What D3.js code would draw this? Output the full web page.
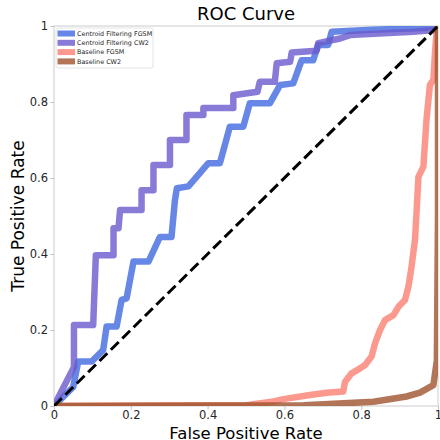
<!DOCTYPE html>
<html>
<head>
<meta charset="utf-8">
<script src="https://cdn.jsdelivr.net/npm/d3@7"></script>
<style>
  body { margin: 0; background: #fff; }
  svg { display: block; font-family: "DejaVu Sans", sans-serif; }
</style>
</head>
<body>
<svg width="440" height="440"></svg>
<script>
// Series names and colours (legend order).
const seriesNames = ["Centroid Filtering FGSM", "Centroid Filtering CW2", "Baseline FGSM", "Baseline CW2"];
const seriesColors = ["#4169E1", "#6A5ACD", "#FA8072", "#A0522D"];

// ROC points: [false positive rate, true positive rate].
const centroidFgsm = [
  [0, 0], [0.05, 0.05], [0.063, 0.117], [0.098, 0.117], [0.128, 0.147], [0.137, 0.209],
  [0.163, 0.209], [0.176, 0.279], [0.189, 0.283], [0.207, 0.38], [0.246, 0.38],
  [0.276, 0.445], [0.306, 0.445], [0.315, 0.542], [0.32, 0.573], [0.35, 0.578],
  [0.402, 0.639], [0.432, 0.639], [0.458, 0.735], [0.493, 0.735], [0.51, 0.797],
  [0.5625, 0.797], [0.589, 0.845], [0.623, 0.849], [0.645, 0.91], [0.675, 0.91],
  [0.688, 0.95], [0.714, 0.95], [0.723, 0.985], [0.83, 0.99], [0.97, 0.995], [1, 1]
];
const centroidCw2 = [
  [0, 0], [0.052, 0.103], [0.052, 0.213], [0.102, 0.213], [0.109, 0.397], [0.155, 0.397],
  [0.155, 0.468], [0.168, 0.468], [0.172, 0.516], [0.228, 0.516], [0.228, 0.568],
  [0.259, 0.568], [0.259, 0.634], [0.302, 0.634], [0.302, 0.7], [0.345, 0.7],
  [0.345, 0.766], [0.389, 0.766], [0.389, 0.784], [0.467, 0.784], [0.467, 0.818],
  [0.53, 0.827], [0.536, 0.853], [0.575, 0.853], [0.58, 0.902], [0.615, 0.906],
  [0.619, 0.93], [0.684, 0.935], [0.688, 0.955], [0.745, 0.967], [0.771, 0.976],
  [0.936, 0.985], [0.997, 0.99], [1, 1]
];
const baselineFgsm = [
  [0, 0], [0.5, 0.002], [0.567, 0.011], [0.597, 0.018], [0.667, 0.029], [0.71, 0.035],
  [0.753, 0.038], [0.758, 0.064], [0.775, 0.086], [0.797, 0.099], [0.81, 0.108],
  [0.827, 0.13], [0.836, 0.165], [0.849, 0.2], [0.862, 0.226], [0.884, 0.239],
  [0.897, 0.261], [0.914, 0.279], [0.923, 0.314], [0.931, 0.366], [0.94, 0.437],
  [0.944, 0.507], [0.949, 0.603], [0.962, 0.63], [0.97, 0.753], [0.979, 0.845],
  [0.988, 0.858], [0.992, 0.928], [0.996, 0.98], [1, 1]
];
const baselineCw2 = [
  [0, 0], [0.65, 0.002], [0.832, 0.011], [0.918, 0.025], [0.953, 0.035],
  [0.988, 0.055], [0.997, 0.12], [1, 0.5], [1, 1]
];
const seriesValues = [centroidFgsm, centroidCw2, baselineFgsm, baselineCw2];

// Axis ticks.
const tickValues = [0, 0.2, 0.4, 0.6, 0.8, 1];
const tickLabels = ["0", "0.2", "0.4", "0.6", "0.8", "1"];

const svg = d3.select("svg");
const plotLeft = 54, plotRight = 438, plotTop = 26, plotBottom = 406;

const x = d3.scaleLinear().domain([0, 1]).range([plotLeft, plotRight]);
const y = d3.scaleLinear().domain([0, 1]).range([plotBottom, plotTop]);

// Clip lines to the axes box.
svg.append("defs").append("clipPath").attr("id", "plot-clip")
  .append("rect")
  .attr("x", plotLeft).attr("y", plotTop)
  .attr("width", plotRight - plotLeft).attr("height", plotBottom - plotTop);

// Axes.
const xAxis = svg.append("g")
  .attr("transform", `translate(0,${plotBottom})`)
  .call(d3.axisBottom(x).tickValues(tickValues).tickFormat((d, i) => tickLabels[i]).tickSize(3.5).tickPadding(1.5));
const yAxis = svg.append("g")
  .attr("transform", `translate(${plotLeft},0)`)
  .call(d3.axisLeft(y).tickValues(tickValues).tickFormat((d, i) => tickLabels[i]).tickSize(3.5).tickPadding(2.5));

[xAxis, yAxis].forEach(g => {
  g.select(".domain").remove();
  g.selectAll(".tick line").attr("stroke", "#b0b0b0").attr("stroke-width", 0.8);
  g.selectAll(".tick text")
    .attr("fill", "#262626")
    .style("font-family", "DejaVu Sans")
    .style("font-size", "11.5px");
});

// Spines (light gray frame).
svg.append("rect")
  .attr("x", plotLeft).attr("y", plotTop)
  .attr("width", plotRight - plotLeft).attr("height", plotBottom - plotTop)
  .attr("fill", "none")
  .attr("stroke", "#cccccc")
  .attr("stroke-width", 1);

// ROC curves.
const line = d3.line().x(d => x(d[0])).y(d => y(d[1]));
const curves = svg.append("g").attr("clip-path", "url(#plot-clip)");

curves.selectAll("path.roc")
  .data(seriesValues)
  .enter()
  .append("path")
  .attr("class", "roc")
  .attr("d", line)
  .attr("fill", "none")
  .attr("stroke", (d, i) => seriesColors[i])
  .attr("stroke-opacity", 0.8)
  .attr("stroke-width", 6.5)
  .attr("stroke-linejoin", "round")
  .attr("stroke-linecap", "butt");

// Chance diagonal.
curves.append("path")
  .attr("d", line([[0, 0], [1, 1]]))
  .attr("fill", "none")
  .attr("stroke", "#000")
  .attr("stroke-width", 3)
  .attr("stroke-dasharray", "11,5");

// Title and axis labels.
svg.append("text")
  .attr("x", (plotLeft + plotRight) / 2).attr("y", 20)
  .attr("text-anchor", "middle")
  .style("font-size", "18px")
  .attr("fill", "#000")
  .text("ROC Curve");

svg.append("text")
  .attr("x", (plotLeft + plotRight) / 2).attr("y", 439)
  .attr("text-anchor", "middle")
  .style("font-size", "16.5px")
  .attr("fill", "#000")
  .text("False Positive Rate");

svg.append("text")
  .attr("transform", `translate(24,${(plotTop + plotBottom) / 2}) rotate(-90)`)
  .attr("text-anchor", "middle")
  .style("font-size", "17px")
  .attr("fill", "#000")
  .text("True Positive Rate");

// Legend.
const legend = svg.append("g").attr("transform", "translate(56,28)");
legend.append("rect")
  .attr("width", 97).attr("height", 40)
  .attr("rx", 2)
  .attr("fill", "#fff").attr("fill-opacity", 0.85)
  .attr("stroke", "#dddddd").attr("stroke-width", 0.8);

const items = legend.selectAll("g.item")
  .data(seriesNames)
  .enter()
  .append("g")
  .attr("class", "item")
  .attr("transform", (d, i) => `translate(0,${5.5 + i * 9.3})`);

items.append("line")
  .attr("x1", 1.5).attr("x2", 19)
  .attr("stroke", (d, i) => seriesColors[i])
  .attr("stroke-opacity", 0.8)
  .attr("stroke-width", 6);

items.append("text")
  .attr("x", 21).attr("y", 2.3)
  .style("font-size", "6.4px")
  .attr("fill", "#262626")
  .text(d => d);
</script>
</body>
</html>
